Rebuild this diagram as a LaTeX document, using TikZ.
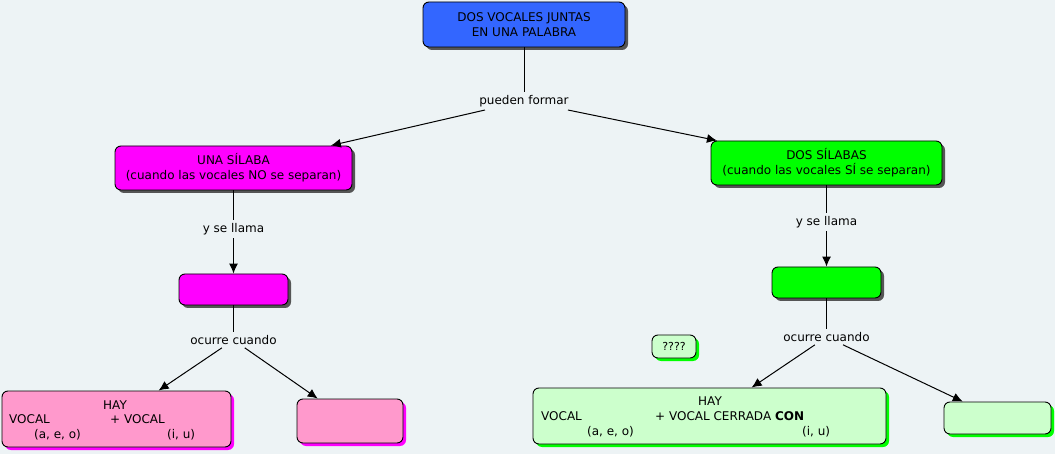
\documentclass[tikz,border=0pt]{standalone}
\usepackage{fontspec}
\setmainfont{DejaVu Sans}
\usetikzlibrary{shadows,arrows.meta}
\definecolor{bg}{HTML}{EDF3F5}
\definecolor{cblue}{HTML}{3366FF}
\definecolor{cmag}{HTML}{FF00FF}
\definecolor{cgreen}{HTML}{00FF00}
\definecolor{cpink}{HTML}{FF99CC}
\definecolor{clgreen}{HTML}{CCFFCC}
\definecolor{shgray}{HTML}{555555}
\tikzset{
  box/.style={draw=black, line width=0.9pt, rounded corners=6pt, inner sep=0pt,
    align=center, font=\fontsize{12}{15}\selectfont},
  shg/.style={drop shadow={shadow xshift=3pt, shadow yshift=-3pt, fill=shgray, opacity=1}},
  shm/.style={drop shadow={shadow xshift=3pt, shadow yshift=-3pt, fill=cmag, opacity=1}},
  shgr/.style={drop shadow={shadow xshift=3pt, shadow yshift=-3pt, fill=cgreen, opacity=1}},
  lbl/.style={fill=bg, inner sep=3pt, font=\fontsize{12}{14}\selectfont},
  txt/.style={inner sep=0pt, anchor=base west, font=\fontsize{12}{14}\selectfont},
  conn/.style={draw=black, line width=1pt},
  arr/.style={conn, -{Latex[length=10pt,width=9pt]}}
}
\begin{document}
\begin{tikzpicture}[x=1pt,y=-1pt]
\fill[bg] (0,0) rectangle (1055,454);
\useasboundingbox (0,0) rectangle (1055,454);
% boxes
\node[box, shg, fill=cblue, minimum width=202pt, minimum height=45pt] (top) at (524,24.5) {DOS VOCALES JUNTAS\\ EN UNA PALABRA};
\node[box, shg, fill=cmag, minimum width=237pt, minimum height=44pt] (una) at (233.5,168) {UNA SÍLABA\\ (cuando las vocales NO se separan)};
\node[box, shg, fill=cgreen, minimum width=231pt, minimum height=44pt] (dos) at (826.5,163) {DOS SÍLABAS\\(cuando las vocales SÍ se separan)};
\node[box, shg, fill=cmag, minimum width=109pt, minimum height=31pt] (m2) at (233.5,289.5) {};
\node[box, shg, fill=cgreen, minimum width=109pt, minimum height=31pt] (g2) at (826.5,282.5) {};
\node[box, shm, fill=cpink, minimum width=229pt, minimum height=56pt] (pk1) at (116.5,419) {};
\node[box, shm, fill=cpink, minimum width=106pt, minimum height=44pt] (pk2) at (350,421) {};
\node[box, shgr, fill=clgreen, minimum width=353pt, minimum height=56pt] (lg1) at (709.5,416) {};
\node[box, shgr, fill=clgreen, minimum width=107pt, minimum height=32pt] (lg2) at (997.5,418) {};
\node[box, shgr, fill=clgreen, minimum width=44pt, minimum height=23pt, font=\fontsize{11}{12}\selectfont] (q) at (674,346.5) {????};
% texts inside
\node[txt] (p1a) at (103,409) {HAY};
\node[txt] (p1b) at (9,423) {VOCAL};
\node[txt] (p1c) at (110,423) {+ VOCAL};
\node[txt] (p1d) at (34,438) {(a, e, o)};
\node[txt] (p1e) at (167,438) {(i, u)};
\node[txt] (g1a) at (698,405) {HAY};
\node[txt] (g1b) at (541,420) {VOCAL};
\node[txt] (g1c) at (655,420) {+ VOCAL CERRADA \textbf{CON}};
\node[txt] (g1d) at (587,435) {(a, e, o)};
\node[txt] (g1e) at (802,435) {(i, u)};
% labels
\node[lbl] (pf) at (524,101) {pueden formar};
\node[lbl] (ysl1) at (233.5,229) {y se llama};
\node[lbl] (oc1) at (233.5,340) {ocurre cuando};
\node[lbl] (ysl2) at (826.5,222) {y se llama};
\node[lbl] (oc2) at (826.5,337) {ocurre cuando};
% connectors
\draw[conn] (top) -- (pf);
\draw[arr] (pf) -- (una);
\draw[arr] (pf) -- (dos);
\draw[conn] (una) -- (ysl1);
\draw[arr] (ysl1) -- (m2);
\draw[conn] (m2) -- (oc1);
\draw[arr] (oc1) -- (pk1);
\draw[arr] (oc1) -- (pk2);
\draw[conn] (dos) -- (ysl2);
\draw[arr] (ysl2) -- (g2);
\draw[conn] (g2) -- (oc2);
\draw[arr] (oc2) -- (lg1);
\draw[arr] (oc2) -- (lg2);
\end{tikzpicture}
\end{document}
